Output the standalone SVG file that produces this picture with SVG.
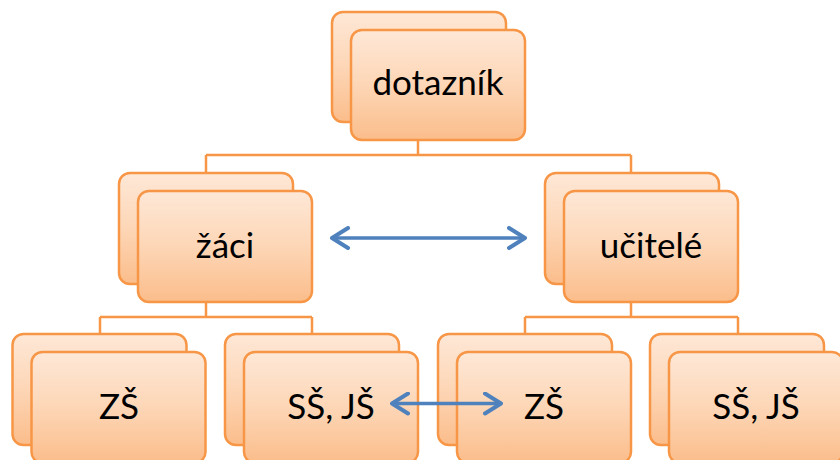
<svg xmlns="http://www.w3.org/2000/svg" width="840" height="460" viewBox="0 0 840 460">
<defs>
<linearGradient id="g" x1="0" y1="0" x2="0" y2="1">
<stop offset="0" stop-color="#fee8d7"/>
<stop offset="0.5" stop-color="#fdd6b6"/>
<stop offset="1" stop-color="#fbbd8b"/>
</linearGradient>
<marker id="ah" viewBox="0 0 20 24" refX="18" refY="12" markerWidth="20" markerHeight="24" markerUnits="userSpaceOnUse" orient="auto-start-reverse">
<path d="M2,2 L18,12 L2,22" fill="none" stroke="#4f81bd" stroke-width="4" stroke-linecap="round" stroke-linejoin="round"/>
</marker>
</defs>
<style>
.b{fill:url(#g);stroke:#f79646;stroke-width:2.5}
.t{font-family:Lato,"Open Sans","Noto Sans",sans-serif;font-size:35px;fill:#000;text-anchor:middle}
.c{fill:none;stroke:#f79646;stroke-width:2.5}
.a{fill:none;stroke:#4f81bd;stroke-width:3.5}
</style>
<g id="connectors">
<path class="c" d="M418,140 V155 M206,155 H631 M206,155 V173 M631,155 V173"/>
<path class="c" d="M206,302 V317 M100,317 H312 M100,317 V334 M312,317 V334"/>
<path class="c" d="M631,302 V317 M525,317 H738 M525,317 V334 M738,317 V334"/>
</g>
<g id="n-dotaznik">
<rect class="b" x="332" y="12" width="174" height="110" rx="11"/>
<rect class="b" x="351" y="30" width="174" height="110" rx="11"/>
<text class="t" x="438" y="95">dotazník</text>
</g>
<g id="n-zaci">
<rect class="b" x="119" y="173" width="174" height="111" rx="11"/>
<rect class="b" x="138" y="191" width="174" height="111" rx="11"/>
<text class="t" x="225" y="258">žáci</text>
</g>
<g id="n-ucitele">
<rect class="b" x="545" y="173" width="174" height="111" rx="11"/>
<rect class="b" x="564" y="191" width="174" height="111" rx="11"/>
<text class="t" x="651" y="258">učitelé</text>
</g>
<g id="n-zs1">
<rect class="b" x="12.5" y="334" width="174" height="111" rx="11"/>
<rect class="b" x="31.5" y="352" width="174" height="111" rx="11"/>
<text class="t" x="119" y="419">ZŠ</text>
</g>
<g id="n-ssjs1">
<rect class="b" x="225" y="334" width="174" height="111" rx="11"/>
<rect class="b" x="244" y="352" width="174" height="111" rx="11"/>
<text class="t" x="331" y="419">SŠ, JŠ</text>
</g>
<g id="n-zs2">
<rect class="b" x="438" y="334" width="174" height="111" rx="11"/>
<rect class="b" x="457" y="352" width="174" height="111" rx="11"/>
<text class="t" x="544" y="419">ZŠ</text>
</g>
<g id="n-ssjs2">
<rect class="b" x="650" y="334" width="174" height="111" rx="11"/>
<rect class="b" x="669" y="352" width="174" height="111" rx="11"/>
<text class="t" x="756" y="419">SŠ, JŠ</text>
</g>
<g id="arrows">
<path class="a" d="M332,238 H525" marker-start="url(#ah)" marker-end="url(#ah)"/>
<path class="a" d="M392,403.5 H501" marker-start="url(#ah)" marker-end="url(#ah)"/>
</g>
</svg>
